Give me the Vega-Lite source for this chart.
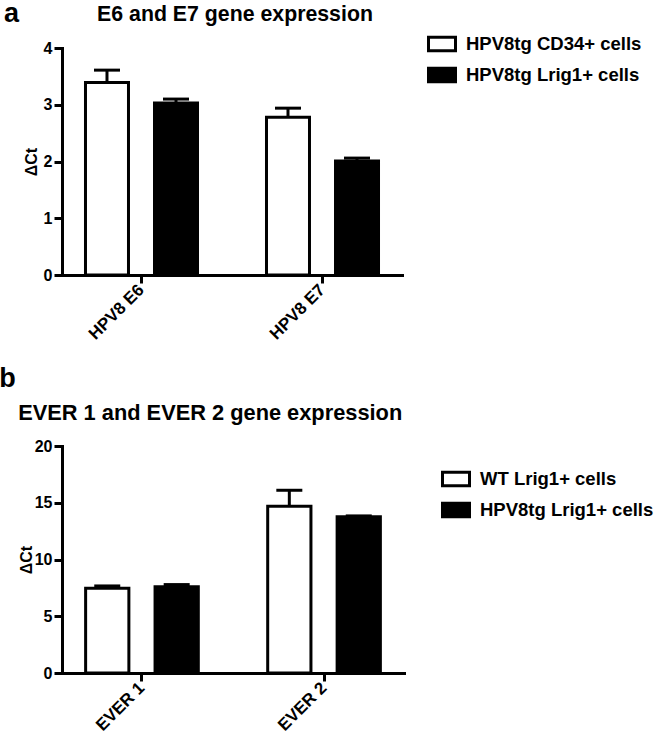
{
  "$schema": "https://vega.github.io/schema/vega-lite/v6.json",
  "padding": {"left": -1, "top": -1, "right": 0, "bottom": 0},
  "background": "white",
  "spacing": 22,
  "datasets": {
    "e6e7": [
      {"gene": "HPV8 E6", "group": "HPV8tg CD34+ cells", "mean": 3.39, "upper": 3.61},
      {"gene": "HPV8 E6", "group": "HPV8tg Lrig1+ cells", "mean": 3.03, "upper": 3.10},
      {"gene": "HPV8 E7", "group": "HPV8tg CD34+ cells", "mean": 2.78, "upper": 2.94},
      {"gene": "HPV8 E7", "group": "HPV8tg Lrig1+ cells", "mean": 2.01, "upper": 2.06}
    ],
    "ever": [
      {"gene": "EVER 1", "group": "WT Lrig1+ cells", "mean": 7.47, "upper": 7.67},
      {"gene": "EVER 1", "group": "HPV8tg Lrig1+ cells", "mean": 7.61, "upper": 7.79},
      {"gene": "EVER 2", "group": "WT Lrig1+ cells", "mean": 14.7, "upper": 16.1},
      {"gene": "EVER 2", "group": "HPV8tg Lrig1+ cells", "mean": 13.76, "upper": 13.84}
    ]
  },
  "vconcat": [
    {
      "title": {"text": "a", "anchor": "start", "fontSize": 27, "font": "Liberation Sans", "fontWeight": "bold", "color": "black", "offset": -24, "dx": -19},
      "vconcat": [
        {
          "width": 340,
          "height": 227,
          "data": {"name": "e6e7"},
          "title": {"text": "E6 and E7 gene expression", "anchor": "middle", "frame": "group", "fontSize": 21.3, "font": "Liberation Sans", "fontWeight": "bold", "color": "black", "offset": 15, "dx": 3},
          "encoding": {
            "x": {"field": "gene", "type": "nominal", "sort": null, "title": null,
              "scale": {"paddingInner": 0.3646, "paddingOuter": 0.1215},
              "axis": {"labelAngle": -45, "labelAlign": "right", "labelBaseline": "middle", "labelPadding": 4}},
            "xOffset": {"field": "group", "type": "nominal", "sort": null,
              "scale": {"paddingInner": 0.377, "paddingOuter": 0.0217}}
          },
          "layer": [
            {
              "mark": {"type": "rule", "strokeWidth": 3, "color": "black"},
              "encoding": {
                "y": {"field": "mean", "type": "quantitative", "title": "ΔCt"},
                "y2": {"field": "upper"}
              }
            },
            {
              "mark": {"type": "tick", "orient": "horizontal", "size": 26, "thickness": 3, "color": "black", "opacity": 1},
              "encoding": {
                "y": {"field": "upper", "type": "quantitative", "title": "ΔCt"}
              }
            },
            {
              "mark": {"type": "bar", "stroke": "black", "strokeWidth": 3},
              "encoding": {
                "y": {"field": "mean", "type": "quantitative", "title": "ΔCt",
                  "scale": {"domain": [0, 4], "nice": false},
                  "axis": {"values": [0, 1, 2, 3, 4], "format": "d", "titlePadding": 4}},
                "fill": {"field": "group", "type": "nominal", "sort": null,
                  "scale": {"domain": ["HPV8tg CD34+ cells", "HPV8tg Lrig1+ cells"], "range": ["white", "black"]},
                  "legend": {"title": null, "orient": "none", "legendX": 365, "legendY": -19}}
              }
            }
          ]
        }
      ]
    },
    {
      "title": {"text": "b", "anchor": "start", "fontSize": 27, "font": "Liberation Sans", "fontWeight": "bold", "color": "black", "offset": 10, "dx": -19},
      "vconcat": [
        {
          "width": 342,
          "height": 227,
          "data": {"name": "ever"},
          "title": {"text": "EVER 1 and EVER 2 gene expression", "anchor": "start", "frame": "bounds", "fontSize": 21.8, "font": "Liberation Sans", "fontWeight": "bold", "color": "black", "offset": 13, "dx": 0},
          "encoding": {
            "x": {"field": "gene", "type": "nominal", "sort": null, "title": null,
              "scale": {"paddingInner": 0.3646, "paddingOuter": 0.1215},
              "axis": {"labelAngle": -45, "labelAlign": "right", "labelBaseline": "middle", "labelPadding": 4}},
            "xOffset": {"field": "group", "type": "nominal", "sort": null,
              "scale": {"paddingInner": 0.377, "paddingOuter": 0.0217}}
          },
          "layer": [
            {
              "mark": {"type": "rule", "strokeWidth": 3, "color": "black"},
              "encoding": {
                "y": {"field": "mean", "type": "quantitative", "title": "ΔCt"},
                "y2": {"field": "upper"}
              }
            },
            {
              "mark": {"type": "tick", "orient": "horizontal", "size": 26, "thickness": 3, "color": "black", "opacity": 1},
              "encoding": {
                "y": {"field": "upper", "type": "quantitative", "title": "ΔCt"}
              }
            },
            {
              "mark": {"type": "bar", "stroke": "black", "strokeWidth": 3},
              "encoding": {
                "y": {"field": "mean", "type": "quantitative", "title": "ΔCt",
                  "scale": {"domain": [0, 20], "nice": false},
                  "axis": {"values": [0, 5, 10, 15, 20], "format": "d", "titlePadding": 0}},
                "fill": {"field": "group", "type": "nominal", "sort": null,
                  "scale": {"domain": ["WT Lrig1+ cells", "HPV8tg Lrig1+ cells"], "range": ["white", "black"]},
                  "legend": {"title": null, "orient": "none", "legendX": 379, "legendY": 18}}
              }
            }
          ]
        }
      ]
    }
  ],
  "resolve": {
    "scale": {"x": "independent", "y": "independent", "xOffset": "independent", "fill": "independent"},
    "axis": {"x": "independent", "y": "independent"},
    "legend": {"fill": "independent"}
  },
  "config": {
    "view": {"stroke": null},
    "font": "Liberation Sans",
    "axis": {
      "grid": false,
      "domainColor": "black",
      "domainWidth": 3,
      "domainCap": "square",
      "tickColor": "black",
      "tickWidth": 3,
      "tickSize": 8,
      "labelFont": "Liberation Sans",
      "labelFontWeight": "bold",
      "labelFontSize": 16,
      "labelColor": "black",
      "titleFont": "Liberation Sans",
      "titleFontWeight": "bold",
      "titleFontSize": 16,
      "titleColor": "black",
      "titlePadding": 12
    },
    "axisX": {"labelFontSize": 17},
    "axisY": {"labelPadding": 2},
    "legend": {
      "padding": 0,
      "symbolType": "M-1,-0.5H1V0.5H-1Z",
      "symbolSize": 729,
      "symbolStrokeColor": "black",
      "symbolStrokeWidth": 3,
      "symbolOpacity": 1,
      "labelFont": "Liberation Sans",
      "labelFontWeight": "bold",
      "labelFontSize": 18.5,
      "labelColor": "black",
      "labelOffset": 9,
      "rowPadding": 3,
      "labelLimit": 300
    }
  }
}
